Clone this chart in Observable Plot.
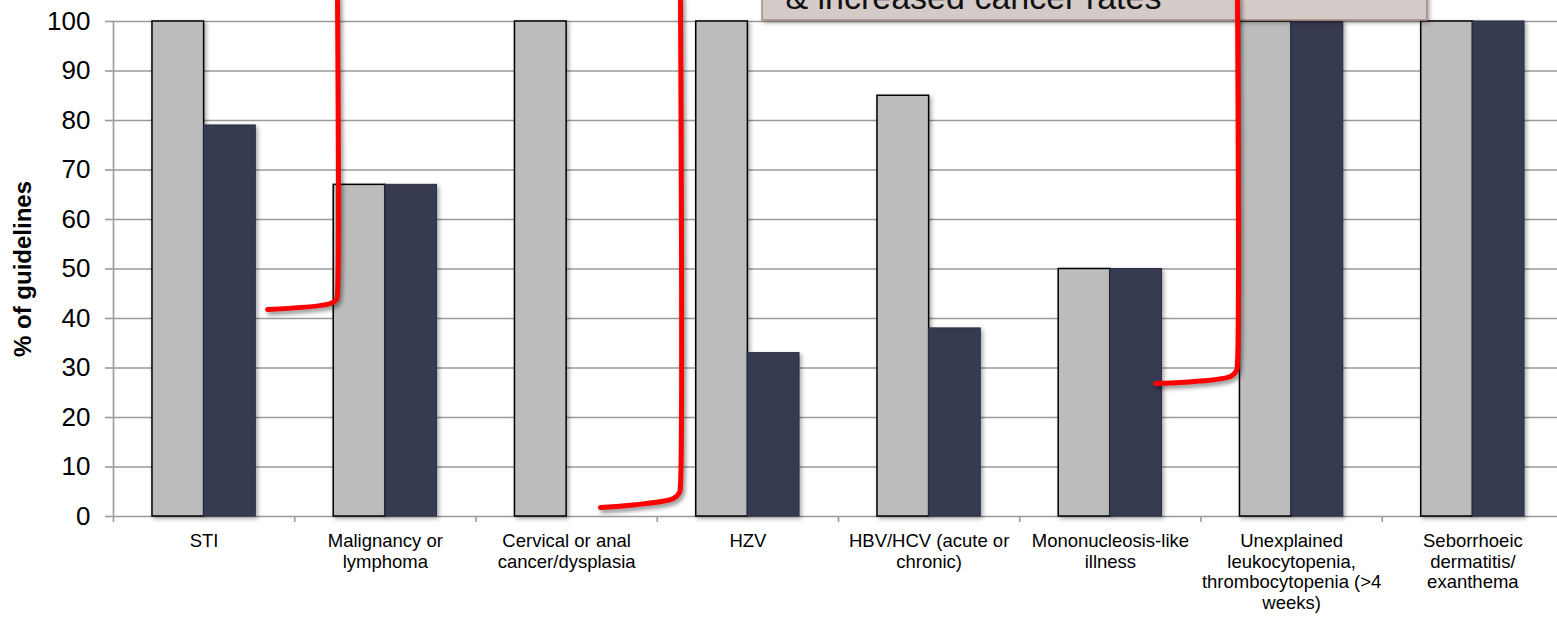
<!DOCTYPE html>
<html>
<head>
<meta charset="utf-8">
<script src="https://cdn.jsdelivr.net/npm/d3@7"></script>
<script src="https://cdn.jsdelivr.net/npm/@observablehq/plot@0.6"></script>
<style>
  html, body { margin: 0; padding: 0; background: #fff; overflow: hidden; }
  #chart svg { display: block; }
</style>
</head>
<body>
<div id="chart"></div>
<script>
// Clinical indicator conditions and the share of guidelines mentioning them
const categories = [
  "STI",
  "Malignancy or\nlymphoma",
  "Cervical or anal\ncancer/dysplasia",
  "HZV",
  "HBV/HCV (acute or\nchronic)",
  "Mononucleosis-like\nillness",
  "Unexplained\nleukocytopenia,\nthrombocytopenia (>4\nweeks)",
  "Seborrhoeic\ndermatitis/\nexanthema"
];
const seriesGrey = [100, 67, 100, 100, 85, 50, 100, 100];
const seriesDark = [79, 67, 0, 33, 38, 50, 100, 100];
const yTicks = [0, 10, 20, 30, 40, 50, 60, 70, 80, 90, 100];
const yTitle = "% of guidelines";

// Callout box running off the top of the chart (category units / percent)
const calloutBox = [{x1: 3.581, x2: 7.249, y1: 100.2, y2: 115}];
const calloutText = [{x: 3.707, y: 102.5, text: "& increased cancer rates"}];

// Red bracket annotations (category units / percent)
const bracket1 = [[1.2359, 105], [1.2359, 45.25], [1.2303, 43.84], [1.1972, 43.03], [0.8497, 41.82]];
const bracket2 = [[3.1283, 105], [3.1283, 6.46], [3.1228, 4.85], [3.0897, 3.64], [2.6869, 1.82]];
const bracket3 = [[6.2014, 105], [6.2014, 31.11], [6.1959, 29.49], [6.1628, 28.28], [5.7490, 26.87]];

const barInset = 0.215; // gap between band edge and the bar pair

const greyRows = seriesGrey.map((v, i) => ({i, v}));
const darkRows = seriesDark.map((v, i) => ({i, v})).filter(d => d.v > 0);
const bracketRows = [bracket1, bracket2, bracket3].flatMap((pts, k) =>
  pts.map(([x, y]) => ({k, x, y})));

const plot = Plot.plot({
  width: 1557,
  height: 620,
  marginTop: 21,
  marginBottom: 104,
  marginLeft: 113,
  marginRight: 0,
  style: {fontFamily: "'Liberation Sans', Arial, sans-serif", background: "#fff", color: "#000"},
  x: {domain: [0, categories.length], range: [113, 1563]},
  y: {domain: [0, 100], range: [516, 21]},
  marks: [
    // gridlines and axis lines
    Plot.ruleY(yTicks, {x1: 0, x2: categories.length, stroke: "#9a9a9a", strokeWidth: 1.6}),
    Plot.ruleX([0], {y1: 0, y2: 100, stroke: "#9a9a9a", strokeWidth: 1.6}),
    Plot.axisY(yTicks, {tickSize: 8, tickPadding: 15, fontSize: 26, stroke: "#9a9a9a", strokeWidth: 1.6, fill: "#000", label: null}),
    Plot.axisX(d3.range(0, categories.length + 1), {tickSize: 6, stroke: "#9a9a9a", strokeWidth: 1.6, tickFormat: () => "", label: null}),
    // bars
    Plot.rectY(greyRows, {x1: d => d.i + barInset, x2: d => d.i + 0.5, y: "v", fill: "#bcbcbc", stroke: "#000", strokeWidth: 1.5}),
    Plot.rectY(darkRows, {x1: d => d.i + 0.5, x2: d => d.i + 1 - barInset, y: "v", fill: "#373b52", stroke: "#2a2d40", strokeWidth: 1}),
    // category labels
    Plot.text(categories, {
      x: (d, i) => i + 0.5, frameAnchor: "bottom", lineAnchor: "top", dy: 16,
      fontSize: 18.5, lineHeight: 1.11, fill: "#000"
    }),
    // y-axis title
    Plot.text([yTitle], {frameAnchor: "left", textAnchor: "middle", rotate: -90, dx: -90, fontSize: 24, fontWeight: "bold", fill: "#000"}),
    // callout
    Plot.rect(calloutBox, {x1: "x1", x2: "x2", y1: "y1", y2: "y2", fill: "#d4cac8", stroke: "#a58c86", strokeWidth: 1.5}),
    Plot.text(calloutText, {x: "x", y: "y", text: "text", textAnchor: "start", lineAnchor: "bottom", fontSize: 34, fill: "#111"}),
    // brackets
    Plot.line(bracketRows, {x: "x", y: "y", z: "k", stroke: "#ff0000", strokeWidth: 5, curve: "catmull-rom"})
  ]
});

document.getElementById("chart").appendChild(plot);

// soft drop shadows on bars, callout and brackets
const svg = d3.select(plot);
svg.selectAll('g[aria-label="rect"]').style("filter", "drop-shadow(2px 2px 2px rgba(0,0,0,0.35))");
svg.selectAll('g[aria-label="line"]').style("filter", "drop-shadow(2px 3px 2px rgba(0,0,0,0.45))");
</script>
</body>
</html>
